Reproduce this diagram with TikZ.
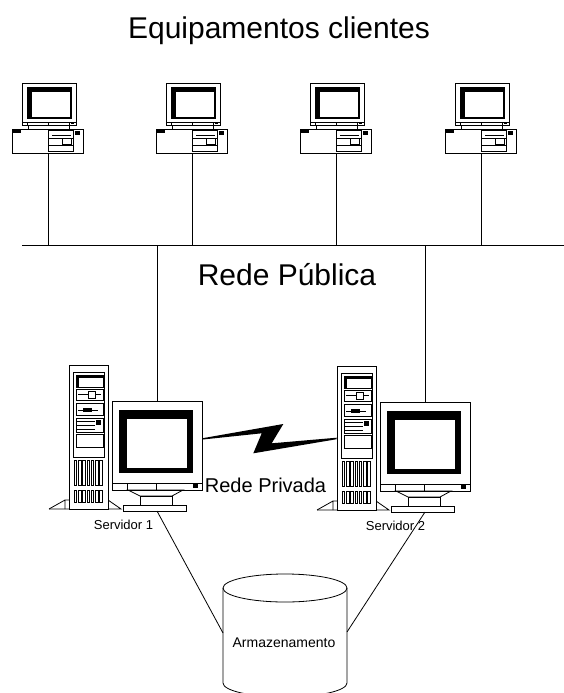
\documentclass[tikz,border=0pt]{standalone}
\usepackage{fontspec}
\setmainfont{Liberation Sans}
\begin{document}
\begin{tikzpicture}[x=1pt,y=-1pt,line width=0.8pt,
  txt/.style={inner sep=0pt,anchor=base},
  big/.style={txt,font=\fontsize{30}{34}\selectfont},
  mid/.style={txt,font=\fontsize{20}{24}\selectfont},
  small/.style={txt,font=\fontsize{13}{15}\selectfont},
  wire/.style={line width=0.8pt},
  client/.pic={
    % monitor
    \draw[fill=white] (-26,-70) rectangle (28,-28);
    \fill (-21,-66) rectangle (24,-34);
    \fill[white] (-16,-61) rectangle (22,-36);
    \draw (-26,-31) -- (28,-31);
    \foreach \t in {-21,0,21} \draw (\t,-31) -- (\t,-28);
    \fill (23,-31) rectangle (26,-29.5);
    \draw (-20,-28) -- (-20,-24) (21,-28) -- (21,-24);
    % desktop case
    \draw[fill=white] (-36,-24) rectangle (35,0);
    \fill (-35,-23) rectangle (-27,-20);
    \draw (0,-23) rectangle (25,-2);
    \draw (4,-18) -- (23,-18) (0,-15) -- (25,-15) (0,-8) -- (25,-8);
    \draw (14,-15) rectangle (23,-9);
    \filldraw (27,-22) rectangle (31,-19);
    \coordinate (-drop) at (0,0);
  },
  server/.pic={
    % feet of the tower
    \draw (-108,108) -- (-92,99) -- (-88,99) (-92,99) -- (-92,108);
    \draw (-49,99) -- (-36,108) -- (-108,108);
    % tower
    \draw[fill=white] (-88,-36) rectangle (-49,108);
    \draw (-84,-29) rectangle (-53,56);
    \draw (-81,-26) rectangle (-54,-14);
    \fill (-81,-26) rectangle (-54,-23);
    \fill (-81,-26) rectangle (-78,-14);
    \draw (-81,-12) rectangle (-54,-1);
    \draw (-79,-6.5) -- (-56,-6.5);
    \draw[fill=white] (-69,-10) rectangle (-62,-3);
    \draw (-81,2) rectangle (-54,14);
    \draw (-79,9) -- (-59,9);
    \fill (-74,6.5) rectangle (-65,11);
    \draw (-81,17) rectangle (-54,31);
    \draw (-81,20) -- (-62,20) (-81,24) -- (-62,24) (-81,28) -- (-62,28);
    \fill (-61,19) rectangle (-56,24);
    \draw (-81,33) rectangle (-54,46);
    \foreach \i in {0,...,6} {
      \draw (-83+\i*4.3,59) rectangle ++(2.6,25);
      \draw (-83+\i*4.3,89) rectangle ++(2.6,12);
    }
    % monitor
    \draw[fill=white] (-45,0) rectangle (45,89);
    \fill (-38,9) rectangle (36,72);
    \fill[white] (-30,18) rectangle (30,67);
    \draw (-45,82) -- (45,82);
    \draw (-30,82) rectangle (-1,89);
    \fill (36,83) rectangle (41,87);
    % stand
    \draw (-29,89) -- (26,89) -- (15,95) -- (-17,95) -- cycle;
    \draw (-17,95) rectangle (15,104);
    \draw (-34,104) rectangle (29,110);
    \coordinate (-top) at (0,0);
    \coordinate (-foot) at (0,110);
  }]
\useasboundingbox[fill=white] (0,0) rectangle (564,693);

\node[big] (title) at (279,39) {Equipamentos clientes};

% client computers
\pic (pc1) at (48,153) {client};
\pic (pc2) at (192,153) {client};
\pic (pc3) at (336,153) {client};
\pic (pc4) at (481,153) {client};

% public network bus
\coordinate (busL) at (22,245);
\coordinate (busR) at (564,245);
\draw[wire] (busL) -- (busR);
\foreach \p in {pc1,pc2,pc3,pc4}
  \draw[wire] (\p-drop) -- (\p-drop |- busL);

\node[big] (pub) at (287,285) {Rede Pública};

% servers
\pic (s1) at (157,401) {server};
\pic (s2) at (425,402) {server};
\draw[wire] (s1-top |- busL) -- (s1-top);
\draw[wire] (s2-top |- busL) -- (s2-top);

% private link
\fill (202,438.3) -- (283.3,424) -- (271.7,443.3) -- (336.7,437.7)
  -- (336.7,439.2) -- (253.3,453.3) -- (261.7,433.3) -- (202,439.6) -- cycle;
\node[mid] (priv) at (265.5,492) {Rede Privada};

\node[small] (lab1) at (123.5,529) {Servidor 1};
\node[small] (lab2) at (395.5,530) {Servidor 2};

% storage
\draw (285,588) ellipse [x radius=62, y radius=14];
\draw (223,588) -- (223,683) arc[start angle=180, end angle=0, x radius=62, y radius=14] -- (347,588);
\node[txt,font=\fontsize{14}{16}\selectfont] (store) at (284,647) {Armazenamento};
\coordinate (storeL) at (223,633);
\coordinate (storeR) at (347,632);
\draw[wire] (s1-foot) -- (storeL);
\draw[wire] (s2-foot) -- (storeR);
\end{tikzpicture}
\end{document}
